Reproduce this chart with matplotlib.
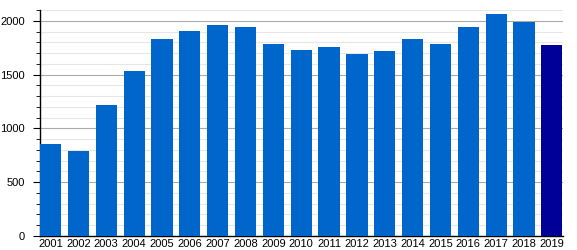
import numpy as np
import matplotlib
matplotlib.use('Agg')
import matplotlib.pyplot as plt
from matplotlib.ticker import MultipleLocator

years = [str(y) for y in range(2001, 2020)]
values = [856, 790, 1219, 1535, 1833, 1907, 1963, 1944, 1786, 1730,
          1758, 1693, 1721, 1833, 1786, 1944, 2065, 1991, 1777]
colors = ['#0066cc'] * 18 + ['#000099']

plt.rcParams['font.family'] = ['Liberation Sans', 'DejaVu Sans']

fig = plt.figure(figsize=(5.77, 2.5), dpi=100)
ax = fig.add_axes([40/577, 14/250, 523/577, 226/250])

x = np.arange(len(years))
ax.bar(x, values, width=0.76, color=colors, zorder=3)

ax.set_xlim(-0.38, len(years) - 0.6)
ax.set_ylim(0, 2100)
ax.yaxis.set_major_locator(MultipleLocator(500))
ax.yaxis.set_minor_locator(MultipleLocator(100))
ax.grid(axis='y', which='major', color='#aaaaaa', lw=0.8, zorder=1)
ax.grid(axis='y', which='minor', color='#e6e6e6', lw=0.8, zorder=0)

ax.set_xticks(x)
ax.set_xticklabels(years)
ax.tick_params(axis='x', length=0, labelsize=8, pad=2)
ax.tick_params(axis='y', which='major', length=5, labelsize=8, pad=6)
ax.tick_params(axis='y', which='minor', length=3)

for s in ['top', 'right']:
    ax.spines[s].set_visible(False)
ax.spines['left'].set_linewidth(1)
ax.spines['bottom'].set_linewidth(1)

fig.savefig('out.png', dpi=100)
